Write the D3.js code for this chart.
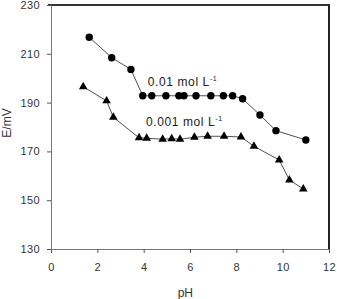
<!DOCTYPE html>
<html>
<head>
<meta charset="utf-8">
<script src="https://cdn.jsdelivr.net/npm/d3@7"></script>
<style>
  body { margin: 0; background: #fff; }
  text { font-family: "Liberation Sans", Arial, sans-serif; }
</style>
</head>
<body>
<div id="chart"></div>
<script>
// 0.01 mol/L series (circles)
var phHigh = [1.65, 2.62, 3.45, 3.96, 4.35, 4.96, 5.52, 5.74, 6.26, 6.9, 7.44, 7.84, 8.27, 9.02, 9.71, 11.0];
var eHigh  = [216.8, 208.4, 203.6, 192.8, 192.8, 192.8, 192.8, 192.8, 192.8, 192.8, 192.8, 192.8, 191.6, 184.9, 178.5, 174.7];
// 0.001 mol/L series (triangles)
var phLow = [1.39, 2.4, 2.69, 3.8, 4.13, 4.82, 5.21, 5.57, 6.19, 6.76, 7.47, 8.2, 8.76, 9.85, 10.29, 10.89];
var eLow  = [196.5, 190.7, 184.0, 175.6, 175.4, 175.0, 175.2, 175.0, 175.8, 176.2, 176.2, 175.9, 172.1, 166.5, 158.3, 154.6];
var xTicks = [0, 2, 4, 6, 8, 10, 12];
var yTicks = [130, 150, 170, 190, 210, 230];

var w = 337, h = 299;
var margin = {left: 51, right: 8, top: 5, bottom: 50};

var svg = d3.select("#chart").append("svg")
    .attr("width", w)
    .attr("height", h);

var x = d3.scaleLinear().domain([0, 12]).range([margin.left, w - margin.right]);
var y = d3.scaleLinear().domain([130, 230]).range([h - margin.bottom, margin.top]);

// frame: top and right borders darker
svg.append("line")
    .attr("x1", x(0) - 3).attr("x2", x(12) + 1)
    .attr("y1", y(230)).attr("y2", y(230))
    .style("stroke", "#333").style("stroke-width", 2);
svg.append("line")
    .attr("x1", x(12)).attr("x2", x(12))
    .attr("y1", y(230)).attr("y2", y(130))
    .style("stroke", "#222").style("stroke-width", 2);

var xAxis = svg.append("g")
    .attr("transform", "translate(0," + y(130) + ")")
    .call(d3.axisBottom(x).tickValues(xTicks).tickSize(4).tickPadding(10).tickFormat(d3.format("d")));
var yAxis = svg.append("g")
    .attr("transform", "translate(" + x(0) + ",0)")
    .call(d3.axisLeft(y).tickValues(yTicks).tickSize(4).tickPadding(7).tickFormat(d3.format("d")));

[xAxis, yAxis].forEach(function(a) {
  a.select(".domain").style("stroke", "#777");
  a.selectAll(".tick line").style("stroke", "#555");
  a.selectAll(".tick text")
    .style("font-size", "11px")
    .style("letter-spacing", "0.4px")
    .style("font-family", "'Liberation Sans', Arial, sans-serif")
    .style("fill", "#333");
});

// axis titles
svg.append("text")
    .attr("x", x(5.8))
    .attr("y", 297)
    .attr("text-anchor", "middle")
    .style("font-size", "12px")
    .style("fill", "#333")
    .text("pH");
svg.append("text")
    .attr("transform", "translate(11,123) rotate(-90)")
    .attr("text-anchor", "middle")
    .style("font-size", "12px")
    .style("fill", "#333")
    .text("E/mV");

var line = d3.line()
    .x(function(d) { return x(d[0]); })
    .y(function(d) { return y(d[1]); });

var high = d3.zip(phHigh, eHigh);
var low = d3.zip(phLow, eLow);

svg.append("path").datum(high)
    .attr("d", line)
    .style("fill", "none").style("stroke", "#222").style("stroke-width", 0.8);
svg.append("path").datum(low)
    .attr("d", line)
    .style("fill", "none").style("stroke", "#222").style("stroke-width", 0.8);

svg.selectAll("circle.high").data(high)
  .enter().append("circle")
    .attr("class", "high")
    .attr("cx", function(d) { return x(d[0]); })
    .attr("cy", function(d) { return y(d[1]); })
    .attr("r", 3.7)
    .style("fill", "#000");

var tri = d3.symbol().type(d3.symbolTriangle).size(32);
svg.selectAll("path.low").data(low)
  .enter().append("path")
    .attr("class", "low")
    .attr("transform", function(d) { return "translate(" + x(d[0]) + "," + y(d[1]) + ")"; })
    .attr("d", tri)
    .style("fill", "#000");

// series labels
function concLabel(xv, yv, txt) {
  var t = svg.append("text")
      .attr("x", x(xv))
      .attr("y", y(yv))
      .style("font-size", "12px")
      .style("letter-spacing", "0.6px")
      .style("fill", "#222");
  t.append("tspan").text(txt);
  t.append("tspan").attr("dy", -5).style("font-size", "7px").text("-1");
}
concLabel(4.18, 197.0, "0.01  mol L");
concLabel(4.1, 180.3, "0.001  mol L");
</script>
</body>
</html>
